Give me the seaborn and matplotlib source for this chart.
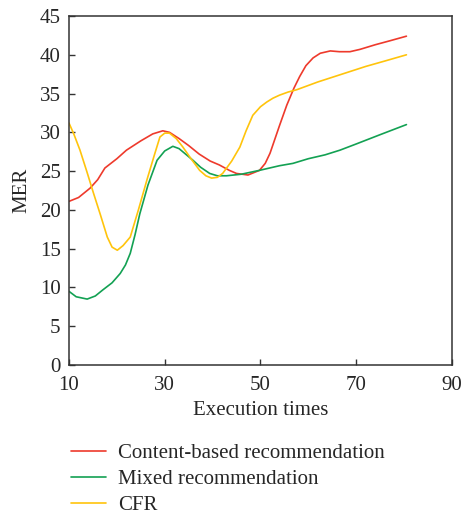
import pandas as pd
import matplotlib.pyplot as plt
import seaborn as sns

series_names = ["Content-based recommendation", "Mixed recommendation", "CFR"]

content_x = [10, 12, 14.4, 16, 17.5, 20, 22, 25, 27.5, 29.6, 31, 33, 35, 37.2, 39.5, 41.4, 43.5, 45, 47.4,
             49.8, 51, 52, 54, 55.5, 57, 58.2, 59.5, 61, 62.5, 64.6, 66.5, 68.7, 70.8, 74, 77, 80.5]
content_y = [21.1, 21.6, 22.8, 23.9, 25.4, 26.6, 27.7, 28.9, 29.8, 30.2, 30.0, 29.2, 28.3, 27.2, 26.3, 25.8, 25.1, 24.7, 24.5,
             25.1, 26.0, 27.3, 30.9, 33.5, 35.7, 37.2, 38.6, 39.6, 40.2, 40.5, 40.4, 40.4, 40.7, 41.3, 41.8, 42.4]

mixed_x = [10, 11.5, 13.8, 15.5, 17.1, 19, 20.7, 21.8, 22.8, 23.8, 24.8, 26.5, 28.4, 30, 31.7, 33, 35.9, 37.5,
           39.4, 41, 42.9, 46, 49.8, 54, 56.8, 60, 63.5, 66.6, 70, 75, 80.5]
mixed_y = [9.5, 8.8, 8.5, 8.9, 9.7, 10.6, 11.8, 12.9, 14.4, 16.8, 19.5, 23.2, 26.4, 27.6, 28.2, 27.9, 26.4, 25.5,
           24.7, 24.4, 24.4, 24.6, 25.1, 25.7, 26.0, 26.6, 27.1, 27.7, 28.5, 29.7, 31.0]

cfr_x = [10, 11, 12.3, 13.7, 15.1, 16.6, 18, 19, 20.1, 21.3, 22.8, 24.5, 26.3, 27.8, 29, 30, 31, 32.4, 33.8,
         35.5, 37.3, 38.6, 39.8, 41, 42.1, 44, 45.7, 47, 48.4, 50, 51.3, 52.6, 54, 55.8, 57.6, 62, 67, 72, 76, 80.5]
cfr_y = [31.2, 29.8, 27.7, 25.0, 22.2, 19.3, 16.5, 15.2, 14.8, 15.4, 16.5, 20.0, 23.9, 27.0, 29.4, 29.9, 29.9, 29.2, 28.1,
         26.6, 25.1, 24.4, 24.1, 24.2, 24.7, 26.3, 28.1, 30.2, 32.2, 33.3, 33.9, 34.4, 34.8, 35.2, 35.5, 36.5, 37.5, 38.5, 39.2, 40.0]

colors = ["#EE3A2C", "#13A153", "#FFC40C"]
x_ticks = [10, 30, 50, 70, 90]
y_ticks = list(range(0, 50, 5))

frames = []
for name, xs, ys in zip(series_names, [content_x, mixed_x, cfr_x], [content_y, mixed_y, cfr_y]):
    frames.append(pd.DataFrame({"x": xs, "y": ys, "series": name}))
df = pd.concat(frames, ignore_index=True)

sns.set_style("ticks")
plt.rcParams["font.family"] = ["Liberation Serif", "DejaVu Serif"]
plt.rcParams["xtick.direction"] = "in"
plt.rcParams["ytick.direction"] = "in"

fs = 15

fig = plt.figure(figsize=(4.63, 5.17), dpi=100)
ax = fig.add_axes([0.149, 0.294, 0.827, 0.675])

sns.lineplot(data=df, x="x", y="y", hue="series", hue_order=series_names,
             palette=colors, sort=False, estimator=None, linewidth=1.2, ax=ax)

ax.set_xlim(10, 90)
ax.set_ylim(0, 45)
ax.set_xticks(x_ticks)
ax.set_yticks(y_ticks)
ax.tick_params(labelsize=fs, length=4, width=1.0, color="#333333")
ax.tick_params(axis="x", pad=8)
ax.tick_params(axis="y", pad=6)
ax.set_xlabel("Execution times", fontsize=fs, labelpad=4)
ax.set_ylabel("MER", fontsize=fs, labelpad=6)
for s in ax.spines.values():
    s.set_linewidth(1.1)
    s.set_color("#333333")

handles, labels = ax.get_legend_handles_labels()
ax.legend_.remove()
fig.legend(handles, labels, loc="upper left", bbox_to_anchor=(0.135, 0.158),
           frameon=False, fontsize=fs, handlelength=1.7, handletextpad=0.55,
           labelspacing=0.3, borderaxespad=0)

fig.savefig("out.png", dpi=100)
